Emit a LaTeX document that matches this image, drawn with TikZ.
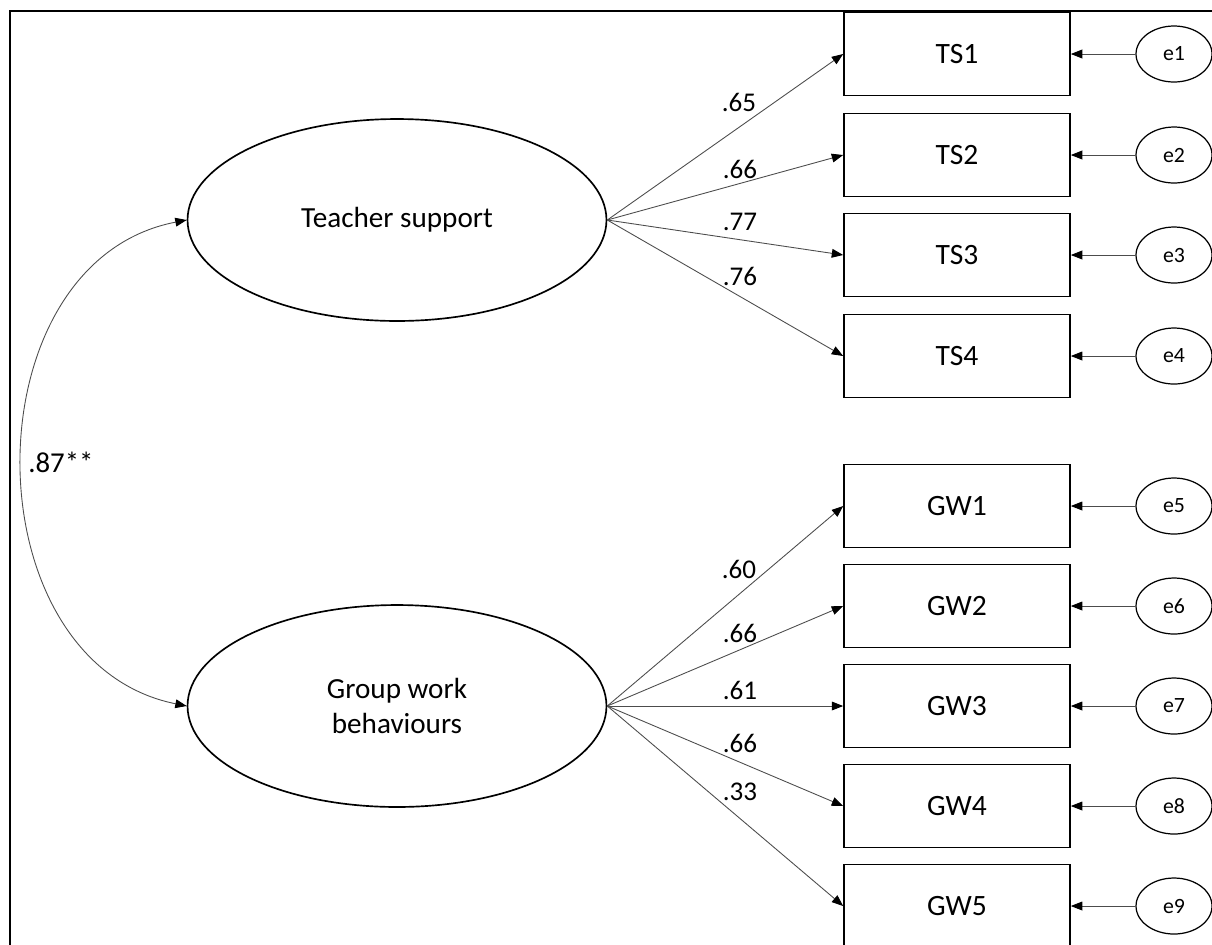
\documentclass[tikz,border=0pt]{standalone}
\usepackage{fontspec}
\setmainfont{Carlito}
\usetikzlibrary{arrows.meta,shapes.geometric}
\begin{document}
\begin{tikzpicture}[x=0.02cm,y=-0.02cm,
  obs/.style={draw, line width=0.95pt, minimum width=4.52cm, minimum height=1.66cm, inner sep=0pt, font=\fontsize{16.8}{19}\selectfont},
  latent/.style={draw, ellipse, line width=0.95pt, minimum width=8.38cm, minimum height=4.04cm, inner sep=0pt, align=center, font=\fontsize{16.6}{19.5}\selectfont},
  err/.style={draw, ellipse, line width=0.7pt, minimum width=1.52cm, minimum height=1.12cm, inner sep=0pt, font=\fontsize{12.4}{14}\selectfont},
  load/.style={inner sep=0pt, font=\fontsize{15.4}{18}\selectfont},
  conn/.style={draw=black!70, line width=0.5pt, -{Triangle[length=6.5pt,width=5pt,color=black,fill=black]}},
]
\useasboundingbox (0,0) rectangle (1212,944);
\draw[line width=1.1pt] (10,1000) -- (10,11) -- (1300,11);

% latent variables
\node[latent] (TS) at (397,220) {Teacher support};
\node[latent] (GW) at (397,706) {Group work\\behaviours};

% observed
\foreach \n/\y in {TS1/54,TS2/155,TS3/255,TS4/356,GW1/506,GW2/606,GW3/706,GW4/806,GW5/906}{
  \node[obs] (\n) at (957,\y) {\n};
}
% errors
\foreach \i/\y in {1/54,2/155,3/255,4/356,5/506,6/606,7/706,8/806,9/906}{
  \node[err] (e\i) at (1174,\y) {e\i};
}
\foreach \i/\n in {1/TS1,2/TS2,3/TS3,4/TS4,5/GW1,6/GW2,7/GW3,8/GW4,9/GW5}{
  \draw[conn] (e\i.west) -- (\n.east);
}

% loadings
\foreach \n in {TS1,TS2,TS3,TS4}{ \draw[conn] (TS.east) -- (\n.west); }
\foreach \n in {GW1,GW2,GW3,GW4,GW5}{ \draw[conn] (GW.east) -- (\n.west); }

\node[load] (l1) at (739,102) {.65};
\node[load] (l2) at (740,169) {.66};
\node[load] (l3) at (740,222) {.77};
\node[load] (l4) at (740,276) {.76};
\node[load] (l5) at (739,569) {.60};
\node[load] (l6) at (740,633) {.66};
\node[load] (l7) at (740,690) {.61};
\node[load] (l8) at (740,743) {.66};
\node[load] (l9) at (740,792) {.33};

% covariance
\draw[draw=black!70, line width=0.5pt, {Triangle[length=6.5pt,width=5pt,color=black,fill=black]}-{Triangle[length=6.5pt,width=5pt,color=black,fill=black]}]
  (TS.west) .. controls (-32,262) and (-32,662) .. (GW.west);
\node[inner sep=0pt, anchor=west, font=\fontsize{16.4}{19}\selectfont] (cov) at (28,462) {.87**};
\end{tikzpicture}
\end{document}
